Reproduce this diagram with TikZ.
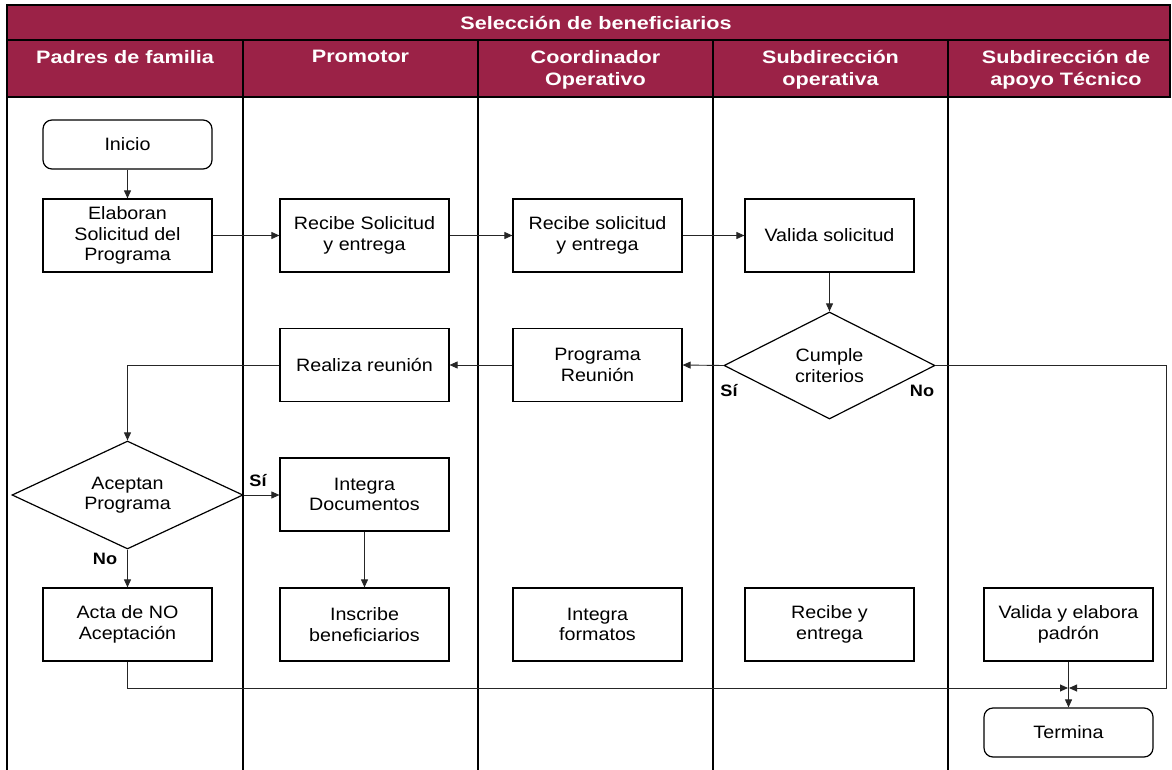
\documentclass[tikz,border=0pt]{standalone}
\usepackage{fontspec}
\setmainfont{Liberation Sans}[FakeStretch=1.1]
\newfontfamily\hdrfont{Liberation Sans}[FakeStretch=1.2]
\usetikzlibrary{shapes.geometric,arrows.meta}
\definecolor{guinda}{RGB}{155,34,71}
\begin{document}
\begin{tikzpicture}[x=1pt,y=-1pt,
  box/.style={draw=black,line width=1.2pt,minimum width=169pt,minimum height=73pt,inner sep=2pt,align=center,font=\fontsize{17.9}{20.5}\selectfont},
  term/.style={box,rounded corners=9pt,minimum height=49pt},
  dec/.style={draw=black,line width=1.2pt,diamond,aspect=2,inner sep=0pt,align=center,font=\fontsize{17.9}{20.5}\selectfont},
  conn/.style={draw=black!85,line width=0.9pt,-{Triangle[length=8pt,width=7pt]}},
  hdr/.style={text=white,align=center,font=\hdrfont\bfseries\fontsize{18}{22}\selectfont},
  lbl/.style={font=\bfseries\fontsize{16.5}{19}\selectfont}
]
\useasboundingbox (0,0) rectangle (1172,770);
\fill[white] (0,0) rectangle (1172,770);
% header
\fill[guinda] (7,5) rectangle (1170,97);
\draw[line width=1.3pt] (7,5) rectangle (1170,40);
\draw[line width=1.3pt] (7,40) rectangle (1170,97);
\draw[line width=1.3pt] (7,97) -- (1170,97);
\node[hdr] (titulo) at (596,22.5) {Selección de beneficiarios};
\node[hdr,anchor=north] (h1) at (125,47) {Padres de familia};
\node[hdr,anchor=north] (h2) at (360.5,47) {Promotor};
\node[hdr,anchor=north] (h3) at (595.5,47) {Coordinador\\Operativo};
\node[hdr,anchor=north] (h4) at (830.5,47) {Subdirección\\operativa};
\node[hdr,anchor=north] (h5) at (1066,47) {Subdirección de\\apoyo Técnico};
% lanes
\draw[line width=1.3pt] (7,5) -- (7,770);
\foreach \x in {243,478,713,948} \draw[line width=1.3pt] (\x,40) -- (\x,770);
% nodes
\node[term] (ini) at (127.5,144.5) {Inicio};
\node[box] (elab) at (127.5,235.5) {Elaboran\\Solicitud del\\Programa};
\node[box] (rs1) at (364.5,235.5) {Recibe Solicitud\\y entrega};
\node[box] (rs2) at (597.5,235.5) {Recibe solicitud\\y entrega};
\node[box] (val) at (829.5,235.5) {Valida solicitud};
\node[dec,minimum width=211pt,minimum height=107pt] (cum) at (829.5,365.5) {Cumple\\criterios};
\node[box] (prog) at (597.5,365) {Programa\\Reunión};
\node[box] (real) at (364.5,365) {Realiza reunión};
\node[dec,minimum width=231pt,minimum height=108pt] (acep) at (127.5,495) {Aceptan\\Programa};
\node[box] (intd) at (364.5,494.5) {Integra\\Documentos};
\node[box] (acta) at (127.5,624.5) {Acta de NO\\Aceptación};
\node[box] (insc) at (364.5,624.5) {Inscribe\\beneficiarios};
\node[box] (intf) at (597.5,624.5) {Integra\\formatos};
\node[box] (recy) at (829.5,624.5) {Recibe y\\entrega};
\node[box] (vpad) at (1068.5,624.5) {Valida y elabora\\padrón};
\node[term] (fin) at (1068.5,732.5) {Termina};
\coordinate (m) at (1068.5,688);
% labels
\node[lbl] (si1) at (729,391) {Sí};
\node[lbl] (no1) at (922,391) {No};
\node[lbl] (si2) at (258,481) {Sí};
\node[lbl] (no2) at (105,559) {No};
% connectors
\draw[conn] (ini) -- (elab);
\draw[conn] (elab.east) -- (rs1.west);
\draw[conn] (rs1) -- (rs2);
\draw[conn] (rs2) -- (val);
\draw[conn] (val) -- (cum);
\draw[conn] (cum.west) -- (prog.east);
\draw[conn] (prog) -- (real);
\draw[conn] (real.west) -- (acep.north |- real.west) -- (acep.north);
\draw[conn] (acep.east) -- (intd.west |- acep.east);
\draw[conn] (acep.south) -- (acta.north);
\draw[conn] (intd) -- (insc);
\draw[conn] (acta.south) -- (acta.south |- m) -- ([xshift=-0.5pt]m);
\draw[conn] (cum.east) -- (1166,365.5) -- (1166,688) -- ([xshift=0.5pt]m);
\draw[conn] (vpad) -- (fin);
\end{tikzpicture}
\end{document}
